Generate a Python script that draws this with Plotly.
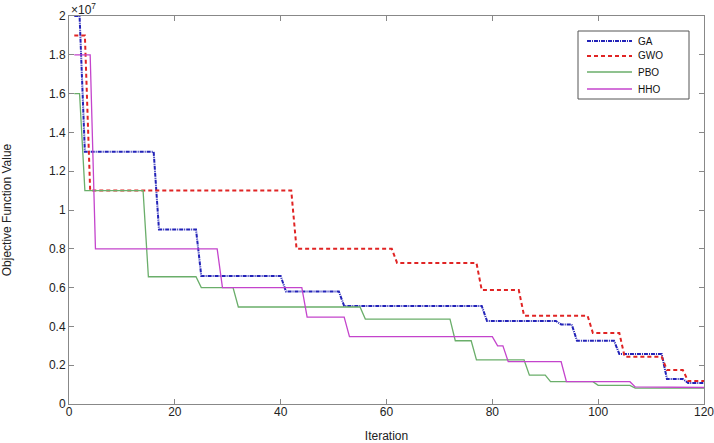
import plotly.graph_objects as go

# Iteration / objective value (units of 1e7) vertices of each convergence curve
GA_x = [1, 2, 3, 16, 17, 24, 25, 40, 41, 51, 52, 78, 79, 92, 93, 95, 96, 103, 104, 112, 113, 116, 117, 120]
GA_y = [2.0, 2.0, 1.3, 1.3, 0.9, 0.9, 0.66, 0.66, 0.58, 0.58, 0.505, 0.505, 0.428, 0.428, 0.41, 0.41,
        0.326, 0.326, 0.258, 0.258, 0.129, 0.129, 0.108, 0.108]

GWO_x = [1, 3, 4, 42, 43, 61, 62, 77, 78, 85, 86, 98, 99, 104, 105, 112, 113, 116, 117, 120]
GWO_y = [1.9, 1.9, 1.1, 1.1, 0.8, 0.8, 0.727, 0.727, 0.587, 0.587, 0.455, 0.455, 0.366, 0.366,
         0.244, 0.244, 0.175, 0.175, 0.118, 0.118]

PBO_x = [1, 2, 3, 14, 15, 24, 25, 31, 32, 55, 56, 72, 73, 76, 77, 86, 87, 90, 91, 99, 100, 106, 107, 120]
PBO_y = [1.6, 1.6, 1.1, 1.1, 0.656, 0.656, 0.6, 0.6, 0.5, 0.5, 0.438, 0.438, 0.326, 0.326, 0.227, 0.227,
         0.149, 0.149, 0.115, 0.115, 0.096, 0.096, 0.082, 0.082]

HHO_x = [1, 4, 5, 28, 29, 44, 45, 52, 53, 80, 81, 82, 83, 93, 94, 106, 107, 120]
HHO_y = [1.8, 1.8, 0.8, 0.8, 0.6, 0.6, 0.448, 0.448, 0.347, 0.347, 0.30, 0.30, 0.218, 0.218,
         0.115, 0.115, 0.088, 0.085]

series_names = ["GA", "GWO", "PBO", "HHO"]
x_ticks = [0, 20, 40, 60, 80, 100, 120]
y_ticks = [0, 0.2, 0.4, 0.6, 0.8, 1, 1.2, 1.4, 1.6, 1.8, 2]
y_tick_labels = ["0", "0.2", "0.4", "0.6", "0.8", "1", "1.2", "1.4", "1.6", "1.8", "2"]

styles = {
    "GA": dict(color="#2323b8", width=2, dash="4px,1px,1px,1px"),
    "GWO": dict(color="#e02424", width=2, dash="4px,3px"),
    "PBO": dict(color="#6aae6a", width=1.3, dash="solid"),
    "HHO": dict(color="#c444cc", width=1.3, dash="solid"),
}
data = {"GA": (GA_x, GA_y), "GWO": (GWO_x, GWO_y), "PBO": (PBO_x, PBO_y), "HHO": (HHO_x, HHO_y)}

W, H = 714, 443
ML, MR, MT, MB = 69, 10, 16, 39
PW, PH = W - ML - MR, H - MT - MB


def px_x(p):
    return (p - ML) / PW


def px_y(p):
    return (H - MB - p) / PH


fig = go.Figure()
for name in series_names:
    xs, ys = data[name]
    fig.add_trace(go.Scatter(x=xs, y=ys, mode="lines", name=name, line=styles[name], showlegend=False))

axis_common = dict(showgrid=False, zeroline=False, showline=True, linecolor="#888888", linewidth=1,
                   mirror="allticks", ticks="inside", ticklen=5, tickcolor="#888888", automargin=False,
                   tickfont=dict(family="Arial", size=12, color="#222222"))

fig.update_xaxes(range=[0, 120], tickvals=x_ticks, ticklabeloverflow="allow", ticklabelstandoff=-3,
                 title=dict(text="Iteration", standoff=16,
                            font=dict(family="Arial", size=12, color="#222222")), **axis_common)
fig.update_yaxes(range=[0, 2], tickvals=y_ticks, ticktext=y_tick_labels,
                 title=dict(text="Objective Function Value", standoff=40,
                            font=dict(family="Arial", size=12, color="#222222")), **axis_common)

fig.add_annotation(text="×10<sup>7</sup>", xref="paper", yref="paper", x=0, y=1,
                   xanchor="left", yanchor="middle", showarrow=False, yshift=7,
                   font=dict(family="Arial", size=12, color="#222222"))

# Legend box (MATLAB-style) drawn in paper coordinates
shapes = [dict(type="rect", xref="paper", yref="paper",
               x0=px_x(578), x1=px_x(689), y0=px_y(99), y1=px_y(31),
               line=dict(color="#555555", width=1), fillcolor="white", layer="above")]
legend_rows = [41, 56, 72, 89]
for name, ry in zip(series_names, legend_rows):
    shapes.append(dict(type="line", xref="paper", yref="paper",
                       x0=px_x(587), x1=px_x(632), y0=px_y(ry), y1=px_y(ry),
                       line=styles[name], layer="above"))
    fig.add_annotation(text=name, xref="paper", yref="paper", x=px_x(636), y=px_y(ry),
                       xanchor="left", yanchor="middle", showarrow=False,
                       font=dict(family="Arial", size=10, color="#111111"))

fig.update_layout(
    width=W, height=H,
    margin=dict(l=ML, r=MR, t=MT, b=MB),
    paper_bgcolor="white", plot_bgcolor="white",
    font=dict(family="Arial", size=12, color="#222222"),
    showlegend=False,
    shapes=shapes,
)

fig.write_html("out.html", config={"displayModeBar": False},
               post_script="document.body.style.margin='0';document.body.style.overflow='hidden';")
